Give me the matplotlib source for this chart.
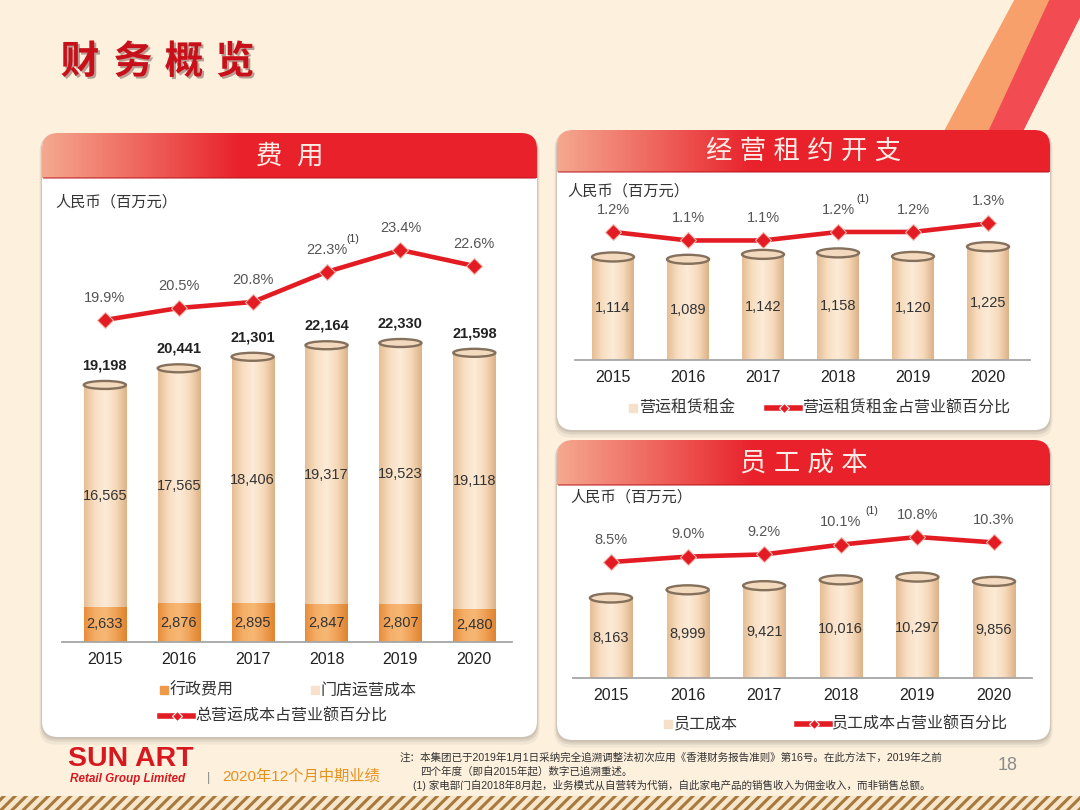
import numpy as np
import matplotlib
matplotlib.use('Agg')
import matplotlib.pyplot as plt
from matplotlib.patches import FancyBboxPatch, Rectangle, Ellipse, Polygon
from matplotlib.colors import LinearSegmentedColormap
import matplotlib.patheffects as pe

plt.rcParams['font.family'] = ['Liberation Sans', 'Noto Sans CJK SC', 'DejaVu Sans']
plt.rcParams['hatch.linewidth'] = 2.2

# data
years = ['2015', '2016', '2017', '2018', '2019', '2020']
admin_cost = [2633, 2876, 2895, 2847, 2807, 2480]
store_cost = [16565, 17565, 18406, 19317, 19523, 19118]
total_cost = [19198, 20441, 21301, 22164, 22330, 21598]
cost_pct = [19.9, 20.5, 20.8, 22.3, 23.4, 22.6]
rent = [1114, 1089, 1142, 1158, 1120, 1225]
rent_pct = [1.2, 1.1, 1.1, 1.2, 1.2, 1.3]
staff = [8163, 8999, 9421, 10016, 10297, 9856]
staff_pct = [8.5, 9.0, 9.2, 10.1, 10.8, 10.3]

W, H = 1080, 810
RED = '#E31B23'
cream_cmap = LinearSegmentedColormap.from_list(
    'cream', ['#E6BE94', '#F8DEC2', '#FCEBD8', '#F6DABB', '#DDB288'])
orange_cmap = LinearSegmentedColormap.from_list(
    'orng', ['#E88E3A', '#F4AE68', '#F6B875', '#EFA055', '#DE8430'])
grad = np.linspace(0, 1, 64).reshape(1, -1)

fig = plt.figure(figsize=(W / 100, H / 100), dpi=100)
fig.patch.set_facecolor('#FDF1DE')

bg = fig.add_axes([0, 0, 1, 1], zorder=0)
bg.set_axis_off()

# decorative stripes top right
bg.add_patch(Polygon([(1015, 0), (1050, 0), (985, 140), (940, 140)], closed=True,
                     color='#F8A06C', zorder=1))
bg.add_patch(Polygon([(1050, 0), (1088, 0), (1018, 140), (985, 140)], closed=True,
                     color='#F24B52', zorder=1))

# hatched strip at the bottom
bg.add_patch(Rectangle((0, 796), W, 14, facecolor='#F6E6CC', edgecolor='#A8783C',
                       hatch='///', lw=0, zorder=1))


def panel(x0, y0, x1, y1, hh, title):
    w, h = x1 - x0, y1 - y0
    for off, a in [(5, 0.05), (3, 0.07), (1.5, 0.08)]:
        bg.add_patch(FancyBboxPatch((x0 - off / 2, y0 + off / 2), w + off, h + off,
                                    boxstyle='round,pad=0,rounding_size=16',
                                    fc='black', ec='none', alpha=a, zorder=2))
    bg.add_patch(FancyBboxPatch((x0, y0), w, h, boxstyle='round,pad=0,rounding_size=16',
                                fc='white', ec='none', zorder=3))
    clip = FancyBboxPatch((x0, y0), w, hh + 25, boxstyle='round,pad=0,rounding_size=16',
                          fc='none', ec='none', transform=bg.transData)
    t = np.linspace(0, 1, 256)
    c0 = np.array([0.96, 0.66, 0.56])
    c1 = np.array([0.91, 0.13, 0.17])
    k = np.clip(t / 0.4, 0, 1)[:, None]
    img = (c0 * (1 - k) + c1 * k)[None, :, :]
    im = bg.imshow(img, extent=[x0, x1, y0 + hh + 25, y0], aspect='auto', zorder=4,
                   interpolation='bilinear')
    im.set_clip_path(clip)
    bg.add_patch(Rectangle((x0, y0 + hh), w, 25, fc='white', ec='none', zorder=5))
    bg.plot([x0 + 2, x1 - 2], [y0 + hh, y0 + hh], color='#B8141A', lw=1.2, alpha=0.6, zorder=5)
    bg.text((x0 + x1) / 2, y0 + hh / 2 + 1, title, color='#FDEDE6', fontsize=19,
            ha='center', va='center', zorder=6)


panel(42, 133, 537, 737, 45, '费  用')
panel(557, 130, 1050, 430, 42, '经 营 租 约 开 支')
panel(557, 440, 1050, 740, 45, '员 工 成 本')

# slide title
for ch, cx in zip('财务概览', [80, 133, 184, 235]):
    bg.text(cx, 62, ch, fontsize=28, fontweight='heavy', color='#C8101A', ha='center',
            va='center', family=['Noto Sans CJK SC'], zorder=6,
            path_effects=[pe.withSimplePatchShadow(offset=(1.5, -1.5), alpha=0.35)])

# unit labels
for ux, uy in [(55, 202), (567, 191), (570, 497)]:
    bg.text(ux, uy, '人民币（百万元）', fontsize=11, color='#333333', ha='left',
            va='center', zorder=6)


def make_ax(l, r, base, top, xlim):
    ax = fig.add_axes([l / W, (H - base) / H, (r - l) / W, (base - top) / H], zorder=2)
    ax.patch.set_visible(False)
    for s in ['left', 'right', 'top']:
        ax.spines[s].set_visible(False)
    ax.spines['bottom'].set_color('#A6A6A6')
    ax.spines['bottom'].set_linewidth(1.3)
    ax.set_yticks([])
    ax.set_xlim(*xlim)
    ax.tick_params(axis='x', length=0, pad=7, labelsize=11.5, labelcolor='#222222')
    return ax


def cyl_bars(ax, x, heights, bottoms, width, cmap, cap_h, cap=True):
    bars = ax.bar(x, heights, width, bottom=bottoms, color='none', edgecolor='none', zorder=2)
    for b in bars:
        x0, y0 = b.get_x(), b.get_y()
        w, h = b.get_width(), b.get_height()
        im = ax.imshow(grad, cmap=cmap, extent=[x0, x0 + w, y0, y0 + h], aspect='auto',
                       interpolation='bicubic', zorder=2)
        im.set_clip_path(b)
        if cap:
            ax.add_patch(Ellipse((x0 + w / 2, y0 + h), w, cap_h, fc='#F3D9BE',
                                 ec='#85705C', lw=1.7, zorder=3))
    return bars


def pct_line(ax2, x, pct, note_idx=3, note_dx=19):
    ax2.set_axis_off()
    ax2.plot(x, pct, color=RED, lw=3.3, marker='D', ms=8, mfc=RED, mec='#F6B9B0',
             mew=0.8, zorder=5, solid_capstyle='round')
    for xi, v in zip(x, pct):
        ax2.annotate(f'{v:.1f}%', (xi, v), xytext=(0, 16), textcoords='offset points',
                     ha='center', va='center', fontsize=10.5, color='#555555')
    ax2.annotate('(1)', (x[note_idx], pct[note_idx]), xytext=(note_dx, 24),
                 textcoords='offset points', ha='center', va='center', fontsize=7.5,
                 color='#333333')


x = np.arange(len(years))

# ---- left panel: expenses
axL = make_ax(62, 512, 642, 230, (-0.58, 5.51))
axL.set_ylim(0, 30770)
capL = 8 * 30770 / 412
cyl_bars(axL, x, admin_cost, 0, 0.57, orange_cmap, capL, cap=False)
cyl_bars(axL, x, store_cost, admin_cost, 0.57, cream_cmap, capL)
axL.set_ylim(0, 30770)
axL.set_xlim(-0.58, 5.51)
axL.set_xticks(x, years)
for xi, a, s, t in zip(x, admin_cost, store_cost, total_cost):
    axL.text(xi, a / 2, f'{a:,}', ha='center', va='center', fontsize=10.5, color='#333333', zorder=4)
    axL.text(xi, a + s / 2, f'{s:,}', ha='center', va='center', fontsize=10.5, color='#333333', zorder=4)
    axL.annotate(f'{t:,}', (xi, t), xytext=(0, 14), textcoords='offset points', ha='center',
                 va='center', fontsize=10.5, fontweight='bold', color='#222222')
axL2 = axL.twinx()
axL2.set_ylim(3.8, 24.4)
pct_line(axL2, x, cost_pct)
axL2.set_xlim(-0.58, 5.51)

# ---- top right: operating lease
axR = make_ax(575, 1030, 360, 200, (-0.507, 5.56))
axR.set_ylim(0, 1730)
cyl_bars(axR, x, rent, 0, 0.56, cream_cmap, 9 * 1730 / 160)
axR.set_ylim(0, 1730)
axR.set_xlim(-0.507, 5.56)
axR.set_xticks(x, years)
for xi, v in zip(x, rent):
    axR.text(xi, v / 2, f'{v:,}', ha='center', va='center', fontsize=10.5, color='#333333', zorder=4)
axR2 = axR.twinx()
axR2.set_ylim(-0.306, 1.576)
pct_line(axR2, x, rent_pct, note_dx=18)
axR2.set_xlim(-0.507, 5.56)

# ---- bottom right: staff cost
axS = make_ax(573, 1032, 678, 520, (-0.496, 5.496))
axS.set_ylim(0, 16122)
cyl_bars(axS, x, staff, 0, 0.55, cream_cmap, 9 * 16122 / 158)
axS.set_ylim(0, 16122)
axS.set_xlim(-0.496, 5.496)
axS.set_xticks(x, years)
for xi, v in zip(x, staff):
    axS.text(xi, v / 2, f'{v:,}', ha='center', va='center', fontsize=10.5, color='#333333', zorder=4)
axS2 = axS.twinx()
axS2.set_ylim(-2.14, 12.36)
pct_line(axS2, x, staff_pct, note_dx=22)
axS2.set_xlim(-0.496, 5.496)


# ---- legends (drawn by hand in pixel space)
def sq(px, py, color, label):
    bg.plot(px, py, marker='s', ms=6, color=color, zorder=7)
    bg.text(px + 6, py, label, fontsize=11.5, color='#333333', ha='left', va='center', zorder=7)


def ln(px0, px1, py, label):
    bg.plot([px0, px1], [py, py], color=RED, lw=4, zorder=7)
    bg.plot((px0 + px1) / 2, py, marker='D', ms=5, color=RED, mec='white', mew=0.8, zorder=8)
    bg.text(px1 + 2, py, label, fontsize=11.5, color='#333333', ha='left', va='center', zorder=7)


sq(164, 690, '#EE9A48', '行政费用')
sq(315, 690, '#F8E2CC', '门店运营成本')
ln(160, 193, 716, '总营运成本占营业额百分比')
sq(633, 408, '#F5E0CA', '营运租赁租金')
ln(767, 800, 408, '营运租赁租金占营业额百分比')
sq(668, 724, '#F5E0CA', '员工成本')
ln(797, 830, 724, '员工成本占营业额百分比')

# ---- footer
bg.text(68, 772, 'SUN ART', fontsize=20.5, fontweight='bold', color='#D7191F', ha='left',
        va='bottom', zorder=6)
bg.text(70, 773, 'Retail Group Limited', fontsize=8.5, fontweight='bold', style='italic',
        color='#D7191F', ha='left', va='top', zorder=6)
bg.text(208, 778, '|', fontsize=9, color='#888888', ha='center', va='center', zorder=6)
bg.text(222, 777, '2020年12个月中期业绩', fontsize=11, color='#E8901E', ha='left',
        va='center', zorder=6)
bg.text(400, 758, '注：本集团已于2019年1月1日采纳完全追溯调整法初次应用《香港财务报告准则》第16号。在此方法下，2019年之前',
        fontsize=7.6, color='#333333', ha='left', va='center', zorder=6)
bg.text(420, 771, '四个年度（即自2015年起）数字已追溯重述。', fontsize=7.6, color='#333333',
        ha='left', va='center', zorder=6)
bg.text(413, 785, '(1) 家电部门自2018年8月起，业务模式从自营转为代销，自此家电产品的销售收入为佣金收入，而非销售总额。',
        fontsize=7.6, color='#333333', ha='left', va='center', zorder=6)
bg.text(1008, 766, '18', fontsize=13, color='#8C8C8C', ha='center', va='center', zorder=6)

bg.set_xlim(0, W)
bg.set_ylim(H, 0)

fig.savefig('out.png', dpi=100, facecolor=fig.get_facecolor())
